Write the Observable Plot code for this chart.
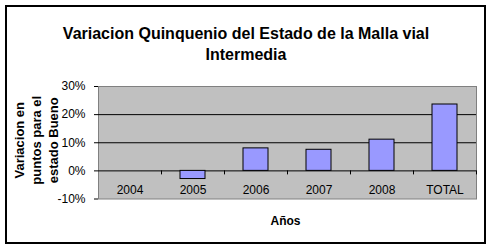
<!DOCTYPE html>
<html>
<head>
<meta charset="utf-8">
<script src="https://cdn.jsdelivr.net/npm/d3@7"></script>
<script src="https://cdn.jsdelivr.net/npm/@observablehq/plot@0.6"></script>
<style>
  html, body { margin: 0; padding: 0; background: #fff; }
  #chart svg { display: block; }
</style>
</head>
<body>
<div id="chart"></div>
<script>
const categories = ["2004", "2005", "2006", "2007", "2008", "TOTAL"];
const values = [0, -0.029, 0.080, 0.075, 0.111, 0.236];
const yTicks = [-0.1, 0, 0.1, 0.2, 0.3];
const gridTicks = [0.1, 0.2];
const titleText = "Variacion Quinquenio del Estado de la Malla vial\nIntermedia";
const yTitle = "Variacion en\npuntos para el\nestado Bueno";
const xTitle = "Años";

const data = categories.map((c, i) => ({cat: c, val: values[i]}));
const font = "'Liberation Sans', Arial, sans-serif";

const chart = Plot.plot({
  width: 491,
  height: 248,
  marginLeft: 98,
  marginRight: 15,
  marginTop: 86,
  marginBottom: 49.5,
  style: {fontFamily: font, fontSize: "12px", color: "black", background: "white"},
  x: {domain: categories, paddingInner: 0.6, paddingOuter: 0.3, axis: null},
  y: {domain: [-0.1, 0.3], axis: null},
  marks: [
    Plot.frame({fill: "#c0c0c0", stroke: "#808080"}),
    Plot.ruleY(gridTicks, {stroke: "black"}),
    Plot.ruleY([0], {stroke: "black"}),
    Plot.barY(data, {x: "cat", y: "val", fill: "#9999ff", stroke: "black", strokeWidth: 1}),
    Plot.ruleX(categories, {x: d => d, dx: 31.5, y1: 0, y2: 0, insetBottom: -4, stroke: "black"}),
    Plot.axisX({anchor: "bottom", tickSize: 0, tickPadding: 0, dy: -13.5, fontSize: 12, label: null}),
    Plot.axisY({anchor: "left", ticks: yTicks, tickFormat: d => Math.round(d * 100) + "%", tickSize: 4, tickPadding: 9, fontSize: 12, label: null, line: true}),
    Plot.text([yTitle], {frameAnchor: "left", text: d => d, rotate: -90, textAnchor: "middle", lineAnchor: "middle", dx: -63, dy: -2.5, fontWeight: "bold", fontSize: 13, lineHeight: 1.3, fill: "black"}),
    Plot.text([titleText], {frameAnchor: "top", text: d => d, dx: -41.5, dy: -62, lineAnchor: "top", fontWeight: "bold", fontSize: 16, lineHeight: 1.3, fill: "black"}),
    Plot.text([xTitle], {frameAnchor: "bottom", text: d => d, dx: -2, dy: 17.5, lineAnchor: "top", fontWeight: "bold", fontSize: 12, fill: "black"})
  ]
});

d3.select(chart).append("rect")
  .attr("x", 6).attr("y", 6).attr("width", 479).attr("height", 237)
  .attr("fill", "none").attr("stroke", "black").attr("stroke-width", 2);

document.getElementById("chart").appendChild(chart);
</script>
</body>
</html>
